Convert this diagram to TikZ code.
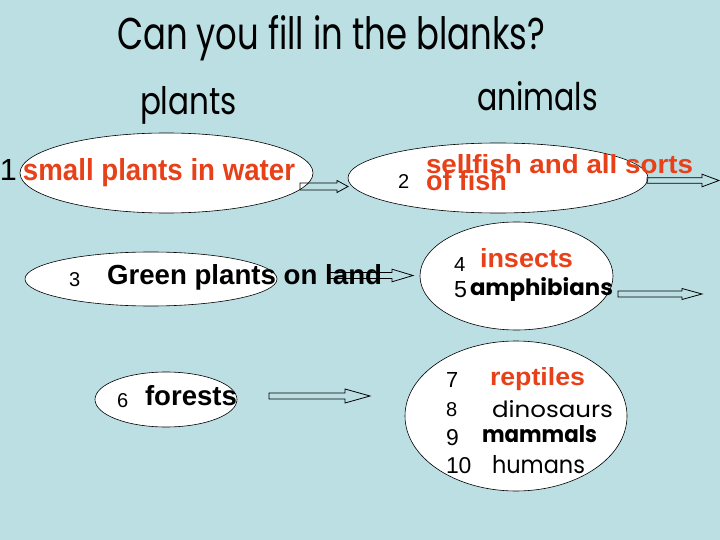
\documentclass[tikz,border=0pt]{standalone}
\usepackage{fontspec}
\usepackage{graphicx}
\usetikzlibrary{shapes.geometric,calc}
\setmainfont{Liberation Sans}
\newfontfamily\comicf{Poppins}
\newfontfamily\arialf{Liberation Sans}
\definecolor{bg}{RGB}{187,223,227}
\definecolor{txtred}{RGB}{232,64,24}
\tikzset{
  ell/.style={ellipse, draw=black, line width=0.6pt, fill=white, inner sep=0pt},
  lbl/.style={anchor=base west, inner sep=0pt, outer sep=0pt},
  blockarr/.style={draw=black, line width=0.8pt, line join=miter}
}
\newcommand\fit[3]{\resizebox{#1pt}{#2pt}{#3}}
\newcommand\dig[2]{\resizebox{!}{#1pt}{\arialf #2}}
\newcommand\blockarrow[5]{\draw[blockarr] let \p1=(#1),\p2=(#2) in
  (\x1,\y1+#3) -- (\x2-#5,\y1+#3) -- (\x2-#5,\y1+#4) -- (\x2,\y1) --
  (\x2-#5,\y1-#4) -- (\x2-#5,\y1-#3) -- (\x1,\y1-#3) -- cycle;}
\begin{document}
\begin{tikzpicture}[x=1pt,y=-1pt]
\fill[bg] (0,0) rectangle (720,540);
\useasboundingbox (0,0) rectangle (720,540);

% ellipses
\node[ell, minimum width=293pt, minimum height=80pt] (e1) at (166.5,173) {};
\node[ell, minimum width=300pt, minimum height=70pt] (e2) at (498,178) {};
\node[ell, minimum width=252pt, minimum height=54pt] (e3) at (151,279) {};
\node[ell, minimum width=193pt, minimum height=108pt] (e4) at (516.5,276) {};
\node[ell, minimum width=142pt, minimum height=55pt] (e5) at (166,399.5) {};
\node[ell, minimum width=222pt, minimum height=150pt] (e6) at (516,416) {};

% headings
\node[lbl] (title) at (117,50) {\fit{428}{34}{\comicf Can you fill in the blanks?}};
\node[lbl] (plants) at (140,115) {\fit{97}{28}{\comicf plants}};
\node[lbl] (animals) at (477,111) {\fit{121}{29}{\comicf animals}};

% plants column
\node[lbl] (n1) at (0,181) {\dig{21}{1}};
\node[lbl] (t1) at (23,181) {\fit{272}{22}{\arialf\bfseries\color{txtred}small plants in water}};
\node[lbl] (n3) at (69,287) {\dig{14}{3}};
\node[lbl] (t3) at (107,284) {\fit{275}{20}{\arialf\bfseries Green plants on land}};
\node[lbl] (n6) at (117,407) {\dig{14}{6}};
\node[lbl] (t6) at (145,405) {\fit{92}{20}{\arialf\bfseries forests}};

% animals column
\node[lbl] (n2) at (398,189) {\dig{14}{2}};
\node[lbl] (t2a) at (426,174) {\fit{267}{19}{\arialf\bfseries\color{txtred}sellfish and all sorts}};
\node[lbl] (t2b) at (426,191) {\fit{81}{20}{\arialf\bfseries\color{txtred}of fish}};
\node[lbl] (n4) at (454,271) {\dig{14}{4}};
\node[lbl] (t4) at (480,267) {\fit{93}{19}{\arialf\bfseries\color{txtred}insects}};
\node[lbl] (n5) at (454,297) {\dig{16}{5}};
\node[lbl] (t5) at (470,295) {\fit{143}{18}{\comicf\bfseries amphibians}};
\node[lbl] (n7) at (446,387) {\dig{15}{7}};
\node[lbl] (t7) at (490,385) {\fit{95}{18}{\arialf\bfseries\color{txtred}reptiles}};
\node[lbl] (n8) at (446,416) {\dig{14}{8}};
\node[lbl] (t8) at (492,417) {\fit{121}{17}{\comicf dinosaurs}};
\node[lbl] (n9) at (446,445) {\dig{16}{9}};
\node[lbl] (t9) at (482,442) {\fit{115}{17}{\comicf\bfseries mammals}};
\node[lbl] (n10) at (446,473) {\dig{16}{10}};
\node[lbl] (t10) at (492,473) {\fit{93}{18}{\comicf humans}};

% arrows
\coordinate (a1s) at (300,186.5); \coordinate (a1t) at (348,186.5);
\coordinate (a2s) at (647,180.5); \coordinate (a2t) at (719,180.5);
\coordinate (a3s) at (328,275.5); \coordinate (a3t) at (413,275.5);
\coordinate (a4s) at (618,294);   \coordinate (a4t) at (702,294);
\coordinate (a5s) at (269,396);   \coordinate (a5t) at (370,396);
\blockarrow{a1s}{a1t}{3.5pt}{6pt}{11pt}
\blockarrow{a2s}{a2t}{2.8pt}{6.3pt}{17pt}
\blockarrow{a3s}{a3t}{3pt}{6.3pt}{21pt}
\blockarrow{a4s}{a4t}{3pt}{5.5pt}{20pt}
\blockarrow{a5s}{a5t}{3pt}{7pt}{25pt}
\end{tikzpicture}
\end{document}
